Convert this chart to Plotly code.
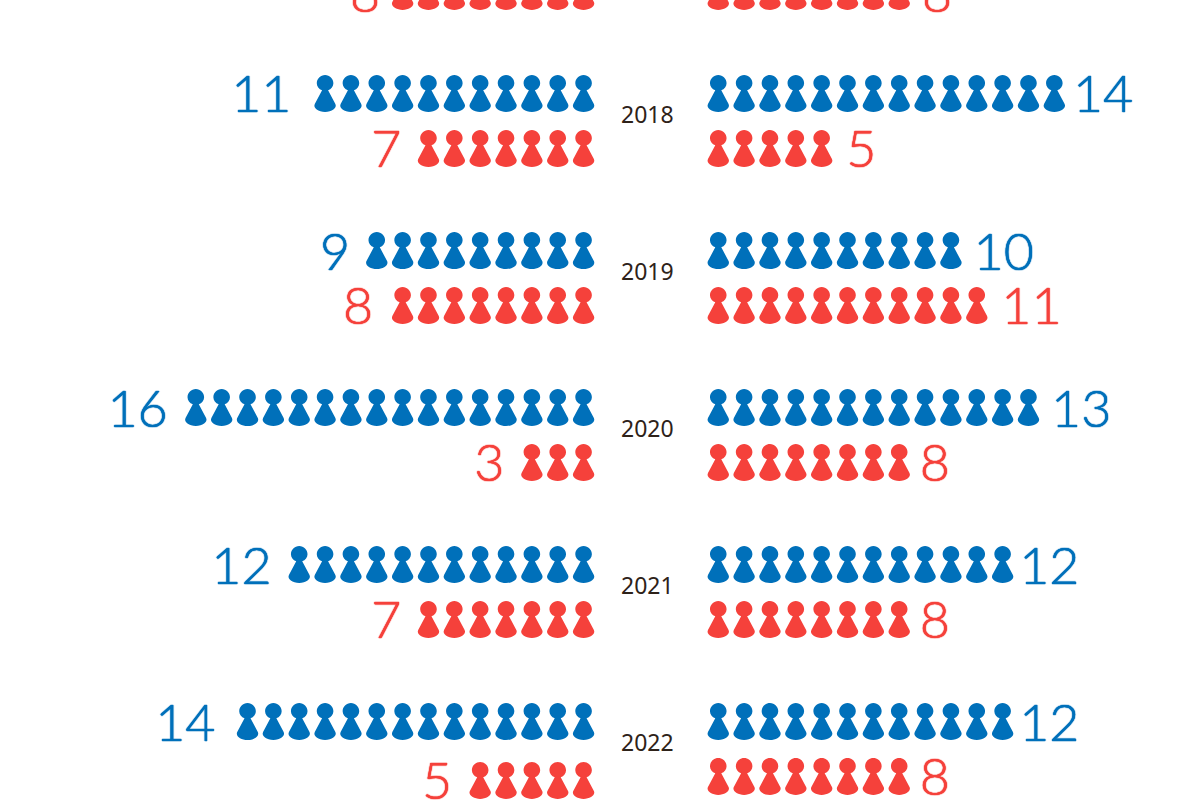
import plotly.graph_objects as go

years = [2017, 2018, 2019, 2020, 2021, 2022]
left_blue = [None, 11, 9, 16, 12, 14]
left_red = [8, 7, 8, 3, 7, 5]
right_blue = [None, 14, 10, 13, 12, 12]
right_red = [8, 5, 11, 8, 8, 8]

# hand placed labels in the original, pixels sideways from the default spot
left_blue_nudge = [0, -9, -2, -3.5, -3, -7.5]
left_red_nudge = [4, -2.5, -5, -3, -2.5, -3.5]
right_blue_nudge = [0, -6, -2, -2, -8, -8]
right_red_nudge = [-4, 0, 0, -4, -4, -4]

BLUE = "#0070BA"
RED = "#F5413B"
SLOT = 25.85  # pixels per pawn on the x axis
YEAR_PX = 157  # pixels per year on the y axis
Y_TOP = 2017.2675

# pawn outline in pixels, y up, anchored on its centre
PAWN = ("M -3 3.2 C -6.2 4.3 -8.3 7 -8.3 10.2 C -8.3 14.8 -4.6 18.5 0 18.5 C 4.6 18.5 8.3 14.8 8.3 10.2 "
        "C 8.3 7 6.2 4.3 3 3.2 L 10.3 -10.5 C 12.3 -14.5 6.5 -18.5 0 -18.5 C -6.5 -18.5 -12.3 -14.5 -10.3 -10.5 Z")

fig = go.Figure()
shapes = []
annotations = []


def add_side(counts, nudges, side, row, color):
    xs, ys, labels = [], [], []
    glow = f"0 0 1px {color}"
    font = dict(family="Lato", size=52, weight=300, color=color, shadow=f"{glow}, {glow}, {glow}")
    for year, n, nudge in zip(years, counts, nudges):
        if n is None:
            continue
        y = year + row
        if side < 0 and row > 0 and year == 2022:
            y += 4 / YEAR_PX  # this row sits a little lower on the left
        for k in range(1, n + 1):
            shapes.append(dict(type="path", path=PAWN, xsizemode="pixel", ysizemode="pixel",
                               xanchor=side * (1.605 + k), yanchor=y,
                               xref="x", yref="y", fillcolor=color, line_width=0, layer="above"))
        label_x = side * (1.605 + n + 0.95) + nudge / SLOT
        label_y = y + 6 / YEAR_PX
        if label_y < Y_TOP:
            # scatter text drops points above the axis range, the top row is cut by the page
            annotations.append(dict(x=label_x, y=Y_TOP, text=str(n), showarrow=False, font=font,
                                    xanchor="right" if side < 0 else "left", yanchor="middle",
                                    yshift=(Y_TOP - label_y) * YEAR_PX + 5))
        else:
            xs.append(label_x)
            ys.append(label_y)
            labels.append(str(n))
    fig.add_trace(go.Scatter(x=xs, y=ys, text=labels, mode="text",
                             textposition="middle left" if side < 0 else "middle right",
                             textfont=font,
                             showlegend=False, hoverinfo="skip", cliponaxis=False))


add_side(left_blue, left_blue_nudge, -1, -0.137, BLUE)
add_side(left_red, left_red_nudge, -1, 0.213, RED)
add_side(right_blue, right_blue_nudge, 1, -0.137, BLUE)
add_side(right_red, right_red_nudge, 1, 0.213, RED)

fig.add_trace(go.Scatter(x=[-0.14] * 5, y=[y + 2.5 / YEAR_PX for y in years[1:]],
                         text=[str(y) for y in years[1:]], mode="text",
                         textposition="middle center",
                         textfont=dict(family="Noto Sans", size=23, color="#2E2219"),
                         showlegend=False, hoverinfo="skip"))

fig.update_layout(
    width=1200, height=800,
    margin=dict(l=0, r=0, t=0, b=0),
    paper_bgcolor="white",
    plot_bgcolor="white",
    shapes=shapes,
    annotations=annotations,
    xaxis=dict(range=[-25.18, 21.24], visible=False, fixedrange=True),
    yaxis=dict(range=[2022.363, Y_TOP], visible=False, fixedrange=True),
)

fig.write_html("out.html", config=dict(displayModeBar=False),
               post_script="document.body.style.margin = '0';")
